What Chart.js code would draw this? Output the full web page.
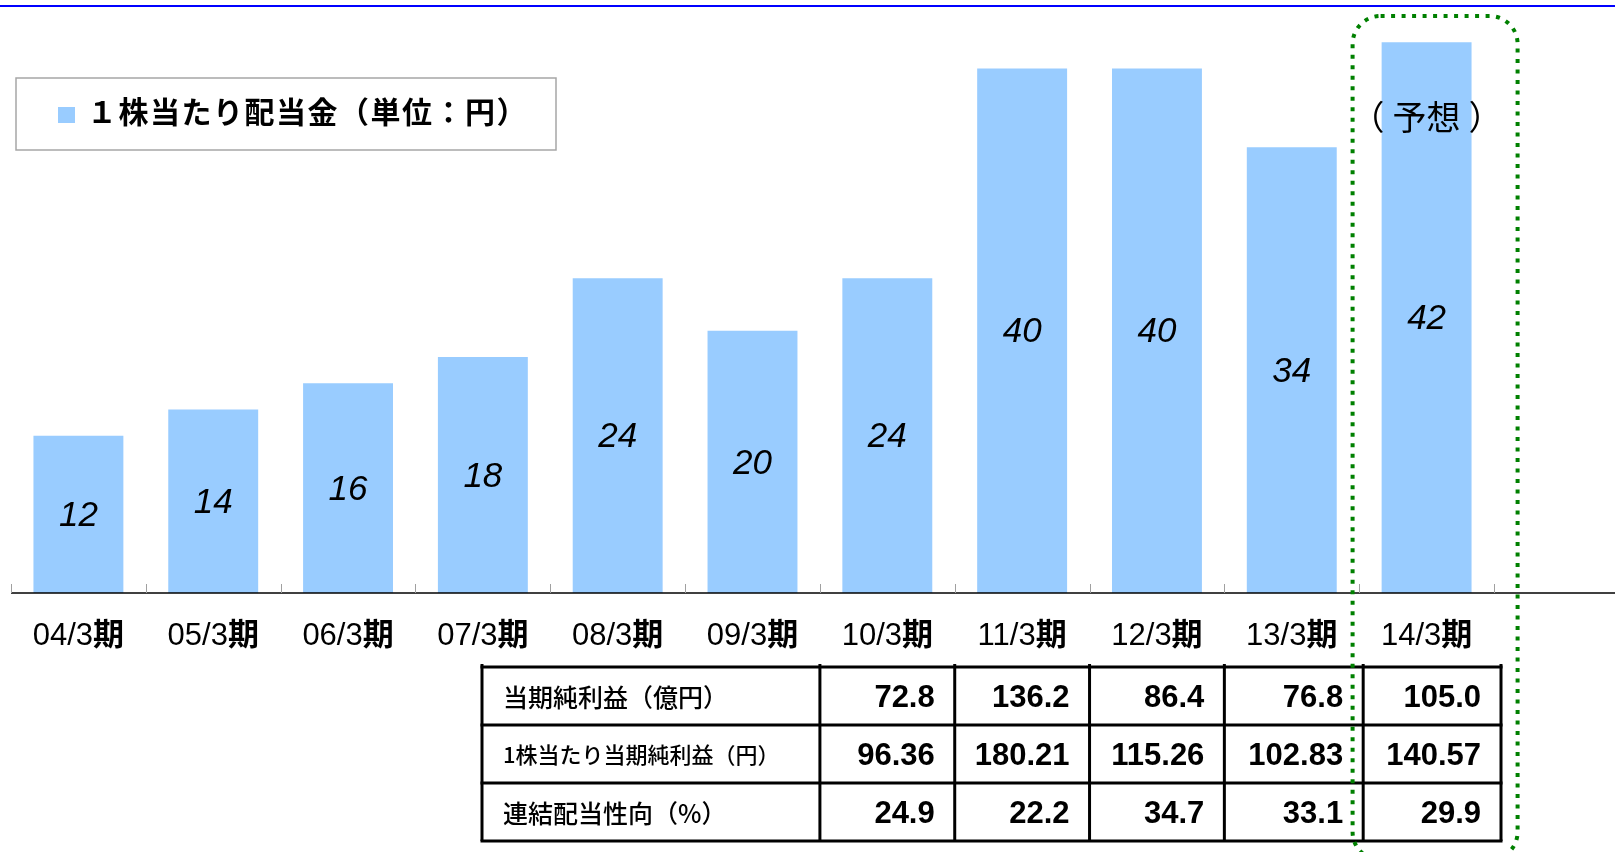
<!DOCTYPE html>
<html lang="ja">
<head>
<meta charset="utf-8">
<script src="https://cdn.jsdelivr.net/npm/chart.js@4.4.1/dist/chart.umd.min.js"></script>
<style>
  html, body { margin: 0; padding: 0; background: #fff; }
  canvas { display: block; }
</style>
</head>
<body>
<canvas id="dividendChart" width="1615" height="852"></canvas>
<script>
const periods = ['04/3期', '05/3期', '06/3期', '07/3期', '08/3期', '09/3期', '10/3期', '11/3期', '12/3期', '13/3期', '14/3期'];
const dividends = [12, 14, 16, 18, 24, 20, 24, 40, 40, 34, 42];
const seriesLabel = '１株当たり配当金（単位：円）';
const forecastNote = ['（', '予想', '）'];
const forecastIndex = 10;

// table under the chart starts at 10/3期
const tableFirstIndex = 6;
const tableRowLabels = ['当期純利益（億円）', '1株当たり当期純利益（円）', '連結配当性向（%）'];
const netIncome = [72.8, 136.2, 86.4, 76.8, 105.0];
const eps = [96.36, 180.21, 115.26, 102.83, 140.57];
const payoutRatio = [24.9, 22.2, 34.7, 33.1, 29.9];

const sans = '"Liberation Sans", Arial, sans-serif';
const cjk = '"Noto Sans CJK JP", sans-serif';

const decorPlugin = {
    id: 'decor',
    beforeDraw(chart) {
        const ctx = chart.ctx;
        ctx.save();
        ctx.fillStyle = '#0000FF';
        ctx.fillRect(0, 5, chart.width, 2);
        ctx.restore();
    },
    afterDatasetsDraw(chart) {
        const ctx = chart.ctx;
        const xs = chart.scales.x;
        const ys = chart.scales.y;
        const area = chart.chartArea;
        const base = ys.getPixelForValue(0);
        const catW = xs.getPixelForValue(1) - xs.getPixelForValue(0);
        ctx.save();

        // axis line + small tick marks
        ctx.strokeStyle = '#000';
        ctx.lineWidth = 1.5;
        ctx.beginPath();
        ctx.moveTo(area.left, base);
        ctx.lineTo(chart.width, base);
        ctx.stroke();
        ctx.strokeStyle = '#a0a0a0';
        ctx.lineWidth = 1;
        for (let i = 0; i <= periods.length; i++) {
            const x = Math.round(xs.getPixelForValue(0) - catW / 2 + i * catW) + 0.5;
            ctx.beginPath();
            ctx.moveTo(x, base - 9);
            ctx.lineTo(x, base);
            ctx.stroke();
        }

        // values inside bars
        const meta = chart.getDatasetMeta(0);
        ctx.fillStyle = '#000';
        ctx.font = 'italic 35px ' + sans;
        ctx.textAlign = 'center';
        ctx.textBaseline = 'middle';
        meta.data.forEach((bar, i) => {
            ctx.fillText(String(dividends[i]), bar.x, (bar.y + bar.base) / 2 + 2);
        });

        // category labels
        ctx.textBaseline = 'alphabetic';
        ctx.textAlign = 'left';
        periods.forEach((p, i) => {
            const head = p.slice(0, -1);
            const tail = p.slice(-1);
            ctx.font = '31px ' + sans;
            const w1 = ctx.measureText(head).width;
            ctx.font = 'bold 31px ' + cjk;
            const w2 = ctx.measureText(tail).width;
            const x0 = xs.getPixelForValue(i) - (w1 + w2) / 2;
            ctx.font = '31px ' + sans;
            ctx.fillText(head, x0, 645);
            ctx.font = 'bold 31px ' + cjk;
            ctx.fillText(tail, x0 + w1, 645);
        });

        // legend box
        const ds = chart.data.datasets[0];
        ctx.strokeStyle = '#a6a6a6';
        ctx.lineWidth = 1.5;
        ctx.strokeRect(16, 78, 540, 72);
        ctx.fillStyle = ds.backgroundColor;
        ctx.fillRect(58, 107, 17, 16);
        ctx.fillStyle = '#000';
        ctx.font = 'bold 30px ' + cjk;
        ctx.textBaseline = 'middle';
        ctx.letterSpacing = '1.5px';
        ctx.fillText(ds.label, 87, 112);
        ctx.letterSpacing = '0px';

        // data table
        const edges = [482];
        for (let i = tableFirstIndex; i <= periods.length; i++) {
            edges.push(xs.getPixelForValue(i) - catW / 2);
        }
        edges[edges.length - 2] += 4;
        edges[edges.length - 1] += 7;
        const tTop = 667, rowH = 58;
        const rows = [
            netIncome.map(v => v.toFixed(1)),
            eps.map(v => v.toFixed(2)),
            payoutRatio.map(v => v.toFixed(1))
        ];
        ctx.strokeStyle = '#000';
        ctx.lineWidth = 3;
        for (let r = 0; r <= rows.length; r++) {
            ctx.beginPath();
            ctx.moveTo(edges[0] - 1.5, tTop + r * rowH);
            ctx.lineTo(edges[edges.length - 1] + 1.5, tTop + r * rowH);
            ctx.stroke();
        }
        edges.forEach(x => {
            ctx.beginPath();
            ctx.moveTo(x, tTop - 3);
            ctx.lineTo(x, tTop + rows.length * rowH);
            ctx.stroke();
        });
        rows.forEach((vals, r) => {
            const cy = tTop + r * rowH + rowH / 2 + 1;
            ctx.textAlign = 'left';
            ctx.font = (r === 1 ? '500 22px ' : '500 25px ') + cjk;
            ctx.fillText(tableRowLabels[r], edges[0] + 21, cy);
            ctx.textAlign = 'right';
            ctx.font = 'bold 31px ' + sans;
            vals.forEach((v, c) => {
                ctx.fillText(v, edges[c + 2] - 20, cy + 1);
            });
        });

        // forecast frame + note
        const fx = xs.getPixelForValue(forecastIndex);
        ctx.strokeStyle = '#008000';
        ctx.lineWidth = 4;
        ctx.setLineDash([4, 6.5]);
        ctx.beginPath();
        ctx.roundRect(fx - 74, 16, 165, 844, 28);
        ctx.stroke();
        ctx.setLineDash([]);

        ctx.fillStyle = '#000';
        ctx.font = '34px ' + cjk;
        ctx.textBaseline = 'middle';
        ctx.textAlign = 'center';
        const midW = ctx.measureText(forecastNote[1]).width;
        ctx.fillText(forecastNote[1], fx, 117);
        ctx.textAlign = 'right';
        ctx.fillText(forecastNote[0], fx - midW / 2 - 8, 117);
        ctx.textAlign = 'left';
        ctx.fillText(forecastNote[2], fx + midW / 2 + 8, 117);

        ctx.restore();
    }
};

new Chart(document.getElementById('dividendChart'), {
    type: 'bar',
    data: {
        labels: periods,
        datasets: [{
            label: seriesLabel,
            data: dividends,
            backgroundColor: '#99CCFF',
            borderWidth: 0,
            barPercentage: 0.667,
            categoryPercentage: 1
        }]
    },
    options: {
        responsive: false,
        animation: false,
        layout: {
            padding: { left: 11, right: 121, top: 16, bottom: 259 }
        },
        plugins: {
            legend: { display: false },
            tooltip: { enabled: false }
        },
        scales: {
            x: { display: false },
            y: { display: false, min: 0, max: 44 }
        }
    },
    plugins: [decorPlugin]
});
</script>
</body>
</html>
